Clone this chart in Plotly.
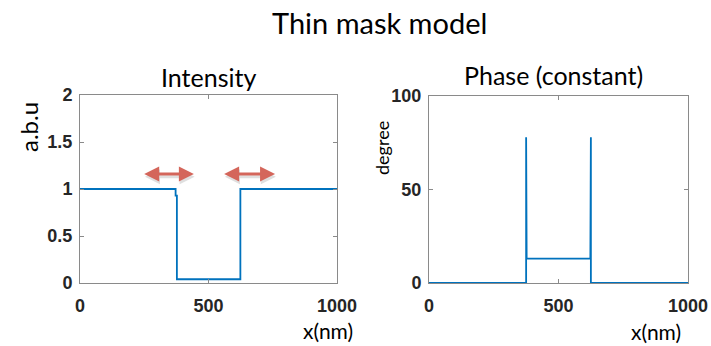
import plotly.graph_objects as go

# Intensity profile across the mask (x in nm, arbitrary units)
intensity_x = [0, 372, 372, 377, 377, 624, 624, 1000]
intensity_y = [1.0, 1.0, 0.93, 0.93, 0.04, 0.04, 1.0, 1.0]

# Phase profile across the mask (degrees)
phase_x = [0, 375, 375, 377, 623, 625, 625, 1000]
phase_y = [0, 0, 78, 13, 13, 78, 0, 0]

# Double-headed arrows marking the edge shift (start x, end x, y)
arrow_spans = [(244, 443, 1.16), (555, 759, 1.16)]

x_ticks = [0, 500, 1000]
x_tick_text = ["0", "500", "1000"]
int_ticks = [0, 0.5, 1, 1.5, 2]
int_tick_text = ["0", "0.5", "1", "1.5", "2"]
phase_ticks = [0, 50, 100]
phase_tick_text = ["0", "50", "100"]

W, H = 711, 346
LINE = "#0072BD"
AXIS = "#8a8a8a"
TXT = "#262626"
TITLE_FONT = "Lato, 'Open Sans', sans-serif"
TICK_FONT = dict(family="Liberation Sans, Arial, sans-serif", size=18, color=TXT,
                 weight="bold")

fig = go.Figure()
fig.add_trace(go.Scatter(x=intensity_x, y=intensity_y, mode="lines",
                         line=dict(color=LINE, width=1.8), xaxis="x", yaxis="y",
                         showlegend=False, hoverinfo="skip"))
fig.add_trace(go.Scatter(x=phase_x, y=phase_y, mode="lines",
                         line=dict(color=LINE, width=1.8), xaxis="x2", yaxis="y2",
                         showlegend=False, hoverinfo="skip"))


def px_x(p):
    return p / W


def px_y(p):
    return 1 - p / H


axis_common = dict(showline=True, linecolor=AXIS, linewidth=1, mirror="ticks",
                   ticks="inside", ticklen=4, tickcolor=AXIS, showgrid=False,
                   zeroline=False, tickfont=TICK_FONT, automargin=False)
x_axis = dict(range=[0, 1000], tickvals=x_ticks, ticktext=x_tick_text,
              ticklabelstandoff=6, **axis_common)

fig.update_layout(
    width=W, height=H,
    margin=dict(l=0, r=0, t=0, b=0),
    paper_bgcolor="white", plot_bgcolor="white",
    xaxis=dict(domain=[px_x(80), px_x(337)], anchor="y", **x_axis),
    yaxis=dict(domain=[px_y(283), px_y(95)], range=[0, 2], tickvals=int_ticks,
               ticktext=int_tick_text, anchor="x", ticklabelstandoff=3, **axis_common),
    xaxis2=dict(domain=[px_x(429), px_x(688)], anchor="y2", **x_axis),
    yaxis2=dict(domain=[px_y(283), px_y(96)], range=[0, 100], tickvals=phase_ticks,
                ticktext=phase_tick_text, anchor="x2", ticklabelstandoff=3, **axis_common),
)

texts = [
    ("Thin mask model", 380, 22, 29, 0),
    ("Intensity", 208, 77, 25, 0),
    ("Phase (constant)", 553, 75, 25, 0),
    ("a.b.u", 28, 127, 24, -90),
    ("degree", 382, 148, 18, -90),
    ("x(nm)", 328, 330, 21, 0),
    ("x(nm)", 656, 331, 21, 0),
]
for t, x, y, s, a in texts:
    fig.add_annotation(text=t, x=px_x(x), y=px_y(y), xref="paper", yref="paper",
                       showarrow=False, textangle=a, xanchor="center", yanchor="middle",
                       font=dict(family=TITLE_FONT, size=s, color="black"))

# Arrows with a soft drop shadow beneath
for x0, x1, y in arrow_spans:
    for dx, dy, col in [(3, -0.03, "rgba(0,0,0,0.12)"), (0, 0, "#d4665b")]:
        fig.add_annotation(x=x1 + dx, y=y + dy, ax=x0 + dx, ay=y + dy,
                           xref="x", yref="y", axref="x", ayref="y",
                           text="", showarrow=True, arrowside="end+start",
                           arrowhead=2, arrowsize=1.0, arrowwidth=3, arrowcolor=col)

fig.write_html("out.html")
